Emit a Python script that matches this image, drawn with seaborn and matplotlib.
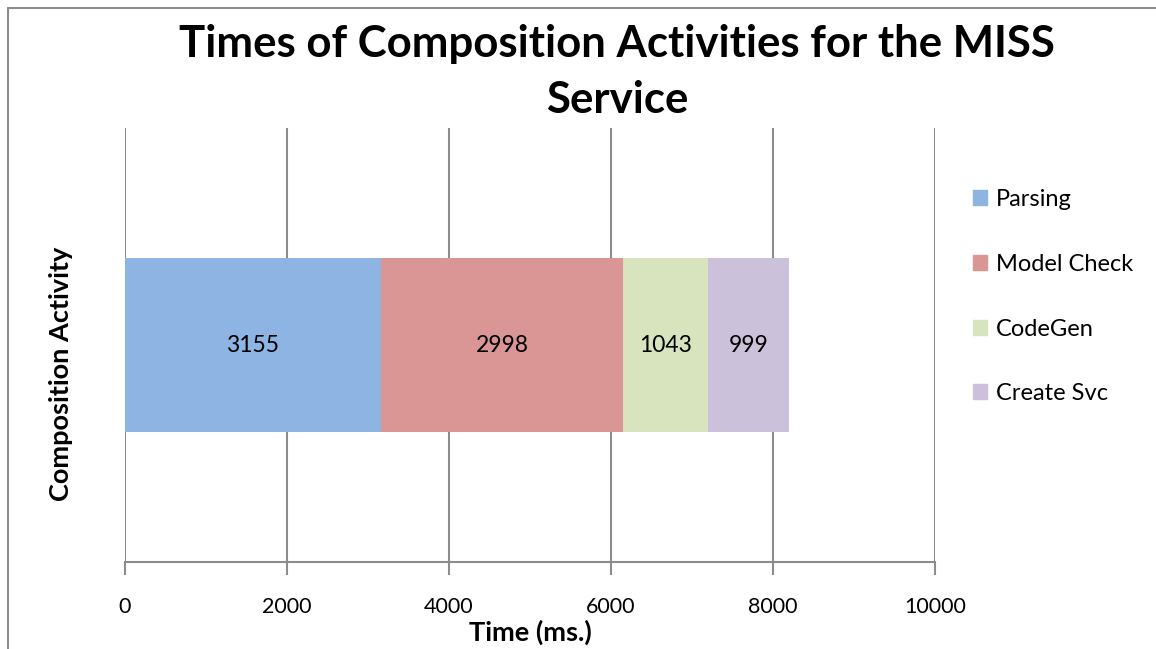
import numpy as np
import pandas as pd
import matplotlib
matplotlib.use("Agg")
import matplotlib.pyplot as plt
import seaborn as sns
from matplotlib.patches import Rectangle

activities = ["Parsing", "Model Check", "CodeGen", "Create Svc"]
times = [3155, 2998, 1043, 999]
colors = ["#8EB4E3", "#D99694", "#D7E4BD", "#CCC1DA"]
category = ["MISS"]
xticks = [0, 2000, 4000, 6000, 8000, 10000]

sns.set_theme(style="white")
plt.rcParams['font.family'] = ['Lato', 'DejaVu Sans']
plt.rcParams['text.color'] = 'black'
plt.rcParams['axes.labelcolor'] = 'black'
plt.rcParams['xtick.color'] = 'black'

fig = plt.figure(figsize=(11.56, 6.49), dpi=100)
ax = fig.add_axes([125/1156, 1-562/649, (935-125)/1156, (562-128)/649])

cum = np.cumsum(times)
starts = cum - np.array(times)
# draw from the largest cumulative total down so each segment shows
for i in reversed(range(len(activities))):
    df = pd.DataFrame({"cat": category, "val": [cum[i]]})
    sns.barplot(data=df, x="val", y="cat", color=colors[i], width=0.4,
                saturation=1, ax=ax, orient="h", linewidth=0, zorder=3)

for s, t in zip(starts, times):
    ax.text(s + t/2, 0, str(t), ha="center", va="center", fontsize=16.5, color="black", zorder=4)

ax.set_xlim(0, 10000)
ax.set_ylim(0.5, -0.5)
ax.set_xticks(xticks)
ax.set_xticklabels([str(v) for v in xticks], fontsize=15.5)
ax.set_yticks([])
ax.grid(axis="x", color="#8c8c8c", linewidth=1.5, zorder=0)
for sp in ["top", "right", "left"]:
    ax.spines[sp].set_visible(False)
ax.spines["bottom"].set_color("#8c8c8c")
ax.spines["bottom"].set_linewidth(1.5)
ax.tick_params(axis="x", length=9, width=1.5, color="#8c8c8c", labelcolor="black",
               direction="out", pad=16, bottom=True)
ax.set_xlabel("Time (ms.)", fontsize=19.5, fontweight="bold", labelpad=2)
ax.set_ylabel("Composition Activity", fontsize=19.5, fontweight="bold")
ax.yaxis.set_label_coords((73-125)/810, (562-374)/434)

fig.text(617/1156, 1-72/649, "Times of Composition Activities for the MISS\nService",
         ha="center", va="center", fontsize=31.5, fontweight="bold", linespacing=1.5,
         color="black")

handles = [Rectangle((0, 0), 1, 1, color=c) for c in colors]
fig.legend(handles, activities, loc="upper left", bbox_to_anchor=(952/1156, 1-168/649),
           frameon=False, fontsize=17, handlelength=0.6, handleheight=0.6,
           handletextpad=0.35, labelspacing=1.85)

# outer chart border (cropped at right/bottom)
fig.add_artist(plt.Line2D([8/1156, 8/1156], [0, 1-8/649], color="#8c8c8c", lw=1.5))
fig.add_artist(plt.Line2D([8/1156, 1], [1-8/649, 1-8/649], color="#8c8c8c", lw=1.5))

fig.savefig("out.png", dpi=100)
